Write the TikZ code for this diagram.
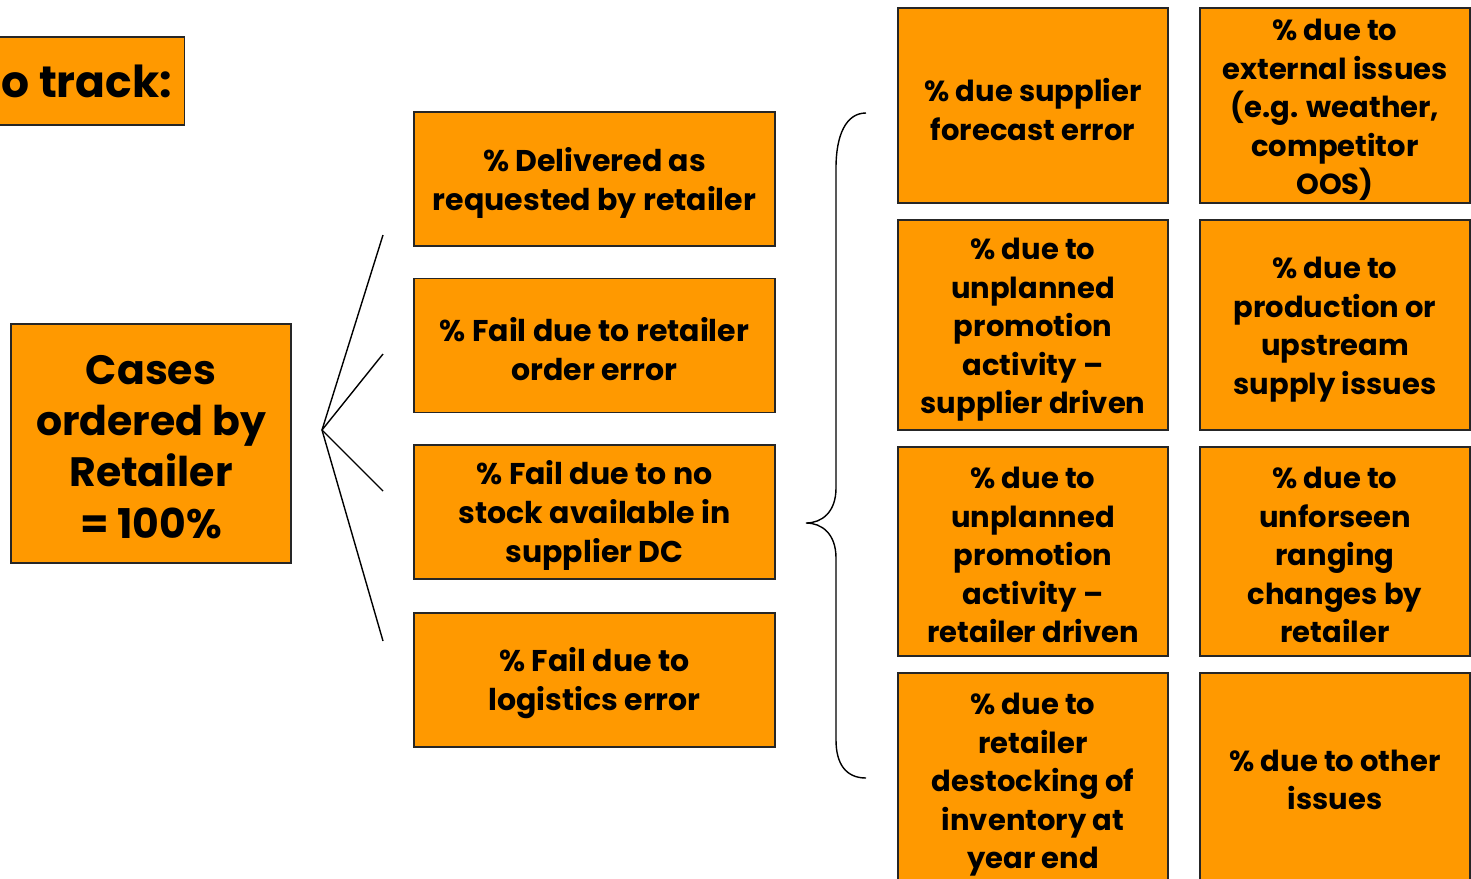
\documentclass[tikz,border=0pt]{standalone}
\usepackage{fontspec}
\setmainfont{Poppins}
\usetikzlibrary{positioning}
\definecolor{boxorange}{HTML}{FF9900}
% strut that pushes the text block a little lower in its box
\newcommand{\lowr}[1]{\rule{0pt}{#1}}
\tikzset{
  box/.style={draw=black!85, line width=1.6pt, fill=boxorange,
    align=center, inner sep=0pt,
    font=\bfseries\fontsize{29}{38.5}\selectfont},
  casebox/.style={box, minimum width=280pt, minimum height=239pt,
    font=\bfseries\fontsize{41}{51.3}\selectfont},
  midbox/.style={box, minimum width=361pt, minimum height=134pt,
    font=\bfseries\fontsize{30}{39}\selectfont},
  sidebox/.style={box, minimum width=270pt},
  fan/.style={line width=1.4pt},
}

\begin{document}
\begin{tikzpicture}[x=1pt, y=-1pt]

        \clip (0,0) rectangle (1471,878);

        % heading, cut off at the page edge
        \node [box, minimum width=194pt, minimum height=88pt,
               font=\bfseries\fontsize{44}{51.3}\selectfont, anchor=east]
              (track) at (185.2,81) {\hspace*{3pt}o track:\hspace*{4pt}};

        \node [casebox] (cases) at (151,443.5)
              {\lowr{36pt}Cases\\ordered by\\Retailer\\= 100\%};

        % first level
        \node [midbox] (deliv) at (594.5,179)
              {\lowr{31pt}\% Delivered as\\requested by retailer};
        \node [midbox, below=31pt of deliv] (ordererr)
              {\lowr{31pt}\% Fail due to retailer\\order error};
        \node [midbox, below=31pt of ordererr] (nostock)
              {\lowr{31pt}\% Fail due to no\\stock available in\\supplier DC};
        \node [midbox, below=32pt of nostock] (logist)
              {\lowr{31pt}\% Fail due to\\logistics error};

        \coordinate (apex) at (322,430);
        \coordinate (f1) at (383,235);
        \coordinate (f2) at (383,354);
        \coordinate (f3) at (383,491);
        \coordinate (f4) at (383,641);
        \foreach \e in {f1,f2,f3,f4} {
          \draw [fan] (apex) -- (\e);
        }

        % brace
        \coordinate (btop) at (866,113);
        \coordinate (btip) at (806,523);
        \coordinate (bbot) at (866,778);
        \draw [fan] (btop) .. controls (846,113) and (836,135) .. (836,168)
              -- (836,488) .. controls (836,512) and (822,523) .. (btip)
              .. controls (822,523) and (836,534) .. (836,558)
              -- (836,740) .. controls (836,764) and (846,778) .. (bbot);

        % second level
        \node [sidebox, minimum height=195pt] (fcast) at (1033,105.5)
              {\lowr{31pt}\% due supplier\\forecast error};
        \node [sidebox, minimum height=195pt] (extern) at (1335,105.5)
              {\lowr{31pt}\% due to\\external issues\\(e.g. weather,\\competitor\\OOS)};

        \node [sidebox, minimum height=210pt] (promosup) at (1033,325)
              {\lowr{31pt}\% due to\\unplanned\\promotion\\activity –\\supplier driven};
        \node [sidebox, minimum height=210pt] (product) at (1335,325)
              {\lowr{31pt}\% due to\\production or\\upstream\\supply issues};

        \node [sidebox, minimum height=209pt] (promoret) at (1033,551.5)
              {\lowr{29pt}\% due to\\unplanned\\promotion\\activity –\\retailer driven};
        \node [sidebox, minimum height=209pt] (ranging) at (1335,551.5)
              {\lowr{29pt}\% due to\\unforseen\\ranging\\changes by\\retailer};

        \node [sidebox, minimum height=214pt] (destock) at (1033,780)
              {\lowr{31pt}\% due to\\retailer\\destocking of\\inventory at\\year end};
        \node [sidebox, minimum height=214pt] (other) at (1335,780)
              {\% due to other\\issues};

      \end{tikzpicture}
\end{document}
